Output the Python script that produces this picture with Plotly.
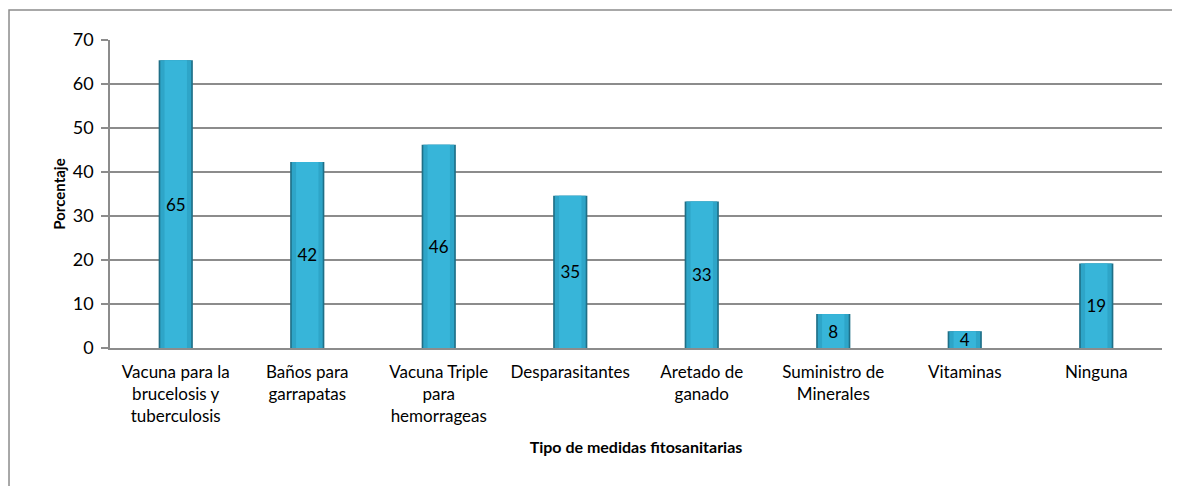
import plotly.graph_objects as go

categories = [
    "Vacuna para la<br>brucelosis y<br>tuberculosis",
    "Baños para<br>garrapatas",
    "Vacuna Triple<br>para<br>hemorrageas",
    "Desparasitantes",
    "Aretado de<br>ganado",
    "Suministro de<br>Minerales",
    "Vitaminas",
    "Ninguna",
]
values = [65.4, 42.3, 46.2, 34.6, 33.3, 7.7, 3.8, 19.2]
labels = ["65", "42", "46", "35", "33", "8", "4", "19"]
y_ticks = [0, 10, 20, 30, 40, 50, 60, 70]

FONT = "Lato"
GRID = "#8C8C8C"

fig = go.Figure()
# layered bars to mimic the shaded Excel column
fig.add_trace(go.Bar(x=categories, y=values, width=0.26,
                     marker=dict(color="#1F6F87", line=dict(width=0)),
                     hoverinfo="skip", showlegend=False))
fig.add_trace(go.Bar(x=categories, y=values, width=0.235,
                     marker=dict(color="#2EA5C8", line=dict(width=0)),
                     hoverinfo="skip", showlegend=False))
fig.add_trace(go.Bar(x=categories, y=values, width=0.17,
                     marker=dict(color="#37B5D9", line=dict(width=0)),
                     text=labels, textposition="inside",
                     insidetextanchor="middle", constraintext="none",
                     textangle=0,
                     textfont=dict(family=FONT, size=17, color="#000000"),
                     showlegend=False))

fig.update_layout(
    barmode="overlay",
    width=1172, height=478,
    margin=dict(l=102, r=18, t=32, b=138),
    paper_bgcolor="white", plot_bgcolor="white",
    font=dict(family=FONT, size=17, color="#000000"),
    xaxis=dict(
        showgrid=False, showline=True, linecolor=GRID, linewidth=1.5,
        ticks="", tickfont=dict(family=FONT, size=17),
        ticklabelstandoff=8,
        title=dict(text="<b>Tipo de medidas fitosanitarias</b>",
                   font=dict(family=FONT, size=16), standoff=16),
    ),
    yaxis=dict(
        range=[0, 70], tickvals=y_ticks, showgrid=True,
        gridcolor=GRID, gridwidth=1.5,
        showline=True, linecolor=GRID, linewidth=1.5,
        ticks="outside", ticklen=7, tickcolor=GRID, tickwidth=1.5,
        tickfont=dict(family=FONT, size=18),
        ticklabelstandoff=4,
        zeroline=False,
        title=dict(text="<b>Porcentaje</b>",
                   font=dict(family=FONT, size=15), standoff=4),
    ),
    shapes=[dict(type="rect", xref="paper", yref="paper",
                 x0=-0.096, x1=1.1, y0=-0.6, y1=1.0974,
                 line=dict(color=GRID, width=1.5),
                 fillcolor="rgba(0,0,0,0)", layer="below")],
)

fig.write_html("out.html")
